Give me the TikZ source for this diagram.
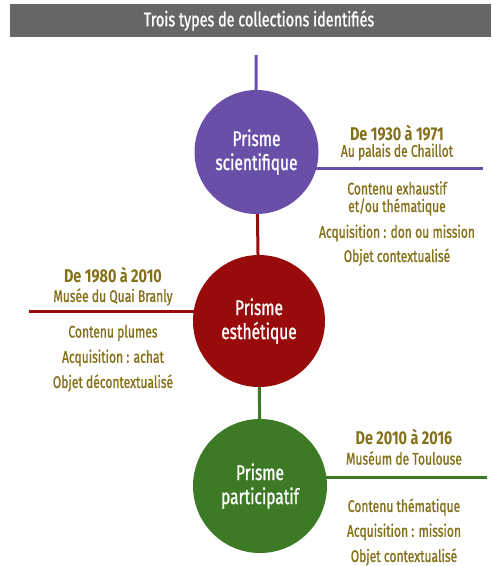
\documentclass[tikz,border=0pt]{standalone}
\usepackage{fontspec}
\setmainfont{Fira Sans}[FakeStretch=0.72, FakeBold=1.0]
\newfontfamily\heavyfont{Fira Sans Bold}[FakeStretch=0.78]
\usetikzlibrary{backgrounds}
\definecolor{hdr}{HTML}{666666}
\definecolor{pur}{HTML}{6A4FA8}
\definecolor{rd}{HTML}{990A0A}
\definecolor{grn}{HTML}{3D7A26}
\definecolor{gold}{HTML}{85701A}
\tikzset{
  prism/.style={circle, minimum size=132pt, inner sep=0pt, text=white, align=center, font=\fontsize{21.5}{24}\selectfont},
  conn/.style={line width=3pt},
  head/.style={text=gold, font=\heavyfont\fontsize{18.5}{18}\selectfont, inner sep=0pt, anchor=center},
  sub/.style={text=gold, font=\fontsize{16.8}{17}\selectfont, inner sep=0pt, anchor=center},
}
\begin{document}
\begin{tikzpicture}[x=1pt,y=-1pt]
\useasboundingbox (0,0) rectangle (491,566);
\node[fill=hdr, minimum width=481pt, minimum height=33pt, inner sep=0pt, anchor=north west] (title) at (10,4) {};
\node[text=white, inner sep=0pt, font=\fontsize{20}{20}\selectfont] (titletext) at (259,20.5) {Trois types de collections identifiés};

\node[prism, fill=pur, minimum size=124pt] (p1) at (256.5,152) {Prisme\\scientifique};
\node[prism, fill=rd] (p2) at (259,321) {Prisme\\esthétique};
\node[prism, fill=grn, minimum size=134pt] (p3) at (260,486) {Prisme\\participatif};

\coordinate (top) at (256,55);
\coordinate (e1) at (483,168);
\coordinate (e2) at (29,311);
\coordinate (e3) at (487,477);

\begin{scope}[on background layer]
\draw[conn, pur] (top) -- (p1);
\draw[conn, rd] (p1) -- (p2);
\draw[conn, grn] (p2) -- (p3);
\draw[conn, pur] (p1.center |- e1) -- (e1);
\draw[conn, rd] (p2.center |- e2) -- (e2);
\draw[conn, grn] (p3.center |- e3) -- (e3);
\end{scope}

\node[head] (h1) at (397,133) {De 1930 à 1971};
\node[sub] (s1) at (397,152) {Au palais de Chaillot};
\node[sub] (a1) at (397,188) {Contenu exhaustif};
\node[sub] (b1) at (397,207) {et/ou thématique};
\node[sub] (c1) at (397,233) {Acquisition : don ou mission};
\node[sub] (d1) at (397,257) {Objet contextualisé};

\node[head] (h2) at (113,275) {De 1980 à 2010};
\node[sub] (s2) at (113,297) {Musée du Quai Branly};
\node[sub] (a2) at (113,333) {Contenu plumes};
\node[sub] (b2) at (113,358) {Acquisition : achat};
\node[sub] (c2) at (113,383) {Objet décontextualisé};

\node[head] (h3) at (404,437) {De 2010 à 2016};
\node[sub] (s3) at (404,458) {Muséum de Toulouse};
\node[sub] (a3) at (404,507) {Contenu thématique};
\node[sub] (b3) at (404,532) {Acquisition : mission};
\node[sub] (c3) at (404,557) {Objet contextualisé};
\end{tikzpicture}
\end{document}
